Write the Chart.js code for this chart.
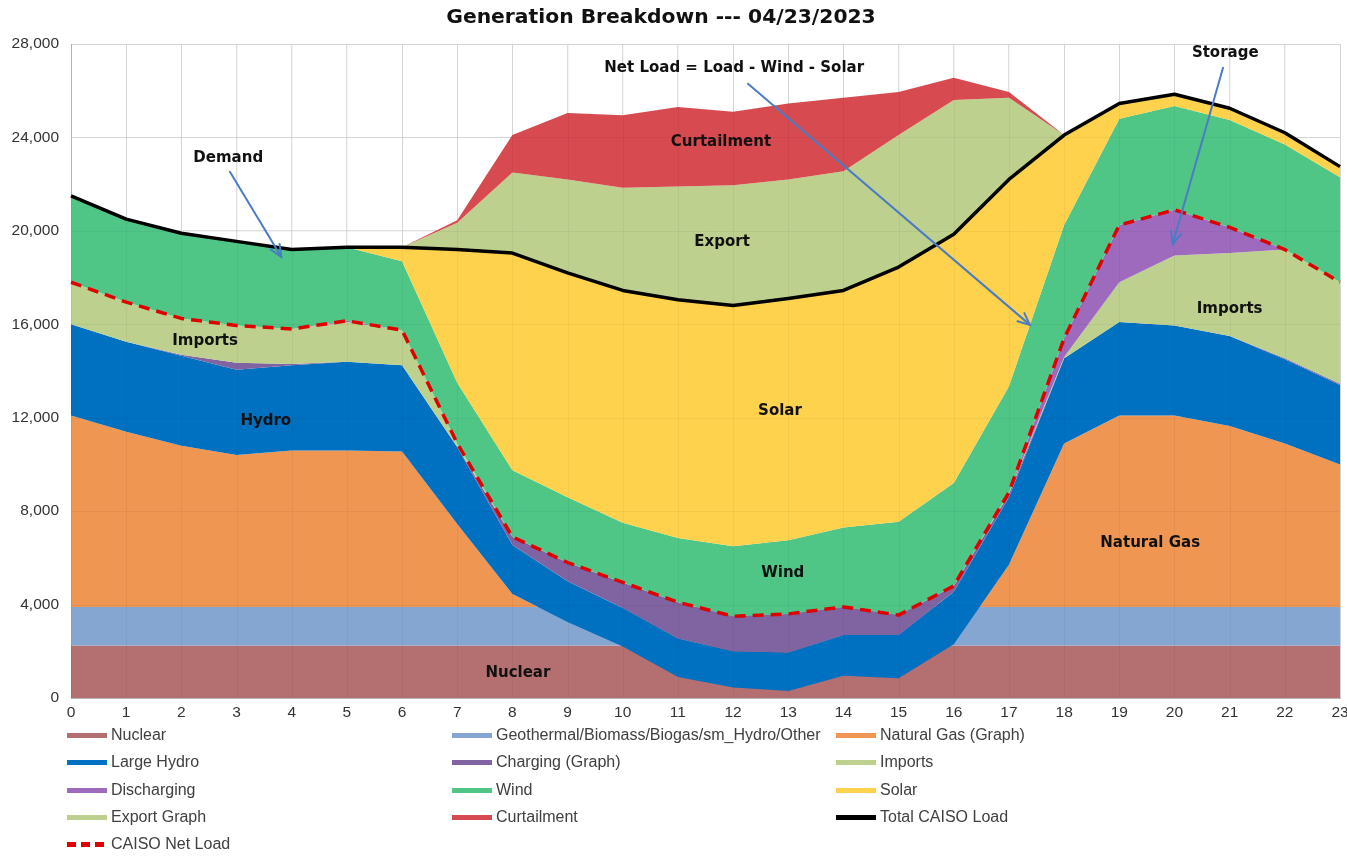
<!DOCTYPE html>
<html><head><meta charset="utf-8">
<script src="https://cdn.jsdelivr.net/npm/chart.js@4.4.0/dist/chart.umd.min.js"></script>
<style>
html,body{margin:0;padding:0;background:#fff;}
#wrap{position:relative;width:1347px;height:858px;overflow:hidden;}
#c{position:absolute;left:0;top:0;}
#title{position:absolute;left:0;width:1322px;top:4px;text-align:center;font:bold 20.3px "DejaVu Sans";color:#111;}
#legend{position:absolute;left:0;top:0;width:1347px;height:858px;pointer-events:none;}
.li{position:absolute;font:16px "Liberation Sans";color:#404040;white-space:nowrap;line-height:18px;}
.sw{position:absolute;}
</style></head><body>
<div id="wrap"><canvas id="c" width="1347" height="858"></canvas>
<div id="title">Generation Breakdown --- 04/23/2023</div>
<div id="legend"></div></div>
<script>
// ---- data (MW), hourly 0..23 ; "Graph" series as plotted in the stacked chart ----
const hours = ['0','1','2','3','4','5','6','7','8','9','10','11','12','13','14','15','16','17','18','19','20','21','22','23'];
const nuclear     = [2250,2250,2250,2250,2250,2250,2250,2250,2250,2250,2250,2250,2250,2250,2250,2250,2250,2250,2250,2250,2250,2250,2250,2250];
const geothermal  = [1650,1650,1650,1650,1650,1650,1650,1650,1650,1650,1650,1650,1650,1650,1650,1650,1650,1650,1650,1650,1650,1650,1650,1650];
const naturalGas  = [8200,7500,6900,6500,6700,6700,6650,3550,550,-650,-1700,-3000,-3450,-3600,-2950,-3050,-1600,1800,7000,8200,8200,7750,7000,6100];
const largeHydro  = [3900,3850,3850,3650,3650,3800,3700,3300,2100,1750,1650,1650,1550,1650,1750,1850,2250,2900,3650,4000,3850,3850,3600,3400];
const charging    = [0,0,50,300,50,0,0,0,350,800,1100,1550,1500,1650,1200,850,250,150,0,0,0,0,50,50];
const imports     = [1800,1700,1550,1600,1500,1700,1500,150,0,0,0,0,0,0,0,0,0,50,50,1700,3000,3550,4650,4350];
const discharging = [0,0,0,0,0,50,0,0,0,0,0,0,0,0,0,0,0,0,800,2450,1950,1100,0,0];
const wind        = [3700,3550,3650,3600,3400,3150,2950,2600,2850,2800,2550,2750,3000,3150,3400,4000,4400,4550,4850,4550,4450,4600,4500,4500];
const solar       = [0,0,0,0,0,0,600,5700,9300,9600,9950,10200,10300,10350,10150,10900,10650,8850,3850,650,500,500,500,450];
const exportGraph = [0,0,0,0,0,0,0,1150,3450,4000,4400,4850,5150,5100,5100,5650,5750,3500,0,0,0,0,0,0];
const curtailment = [0,0,0,0,0,0,0,100,1600,2850,3100,3400,3150,3250,3150,1850,950,250,0,0,0,0,0,0];
const totalLoad   = [21500,20500,19900,19550,19200,19300,19300,19200,19050,18200,17450,17050,16800,17100,17450,18450,19850,22200,24100,25450,25850,25250,24200,22750];
const netLoad     = [17800,16950,16250,15950,15800,16150,15750,10900,6900,5800,4950,4100,3500,3600,3900,3550,4800,8800,15400,20250,20900,20150,19200,17800];
const yTicks      = [0,4000,8000,12000,16000,20000,24000,28000];

const areaSeries = [
  {label:'Nuclear', data:nuclear, color:'#B47070'},
  {label:'Geothermal/Biomass/Biogas/sm_Hydro/Other', data:geothermal, color:'#86A6D2'},
  {label:'Natural Gas (Graph)', data:naturalGas, color:'#EF9653'},
  {label:'Large Hydro', data:largeHydro, color:'#0070C0'},
  {label:'Charging (Graph)', data:charging, color:'#8064A2'},
  {label:'Imports', data:imports, color:'#BED08E'},
  {label:'Discharging', data:discharging, color:'#9D6ABE'},
  {label:'Wind', data:wind, color:'#50C686'},
  {label:'Solar', data:solar, color:'#FFD24D'},
  {label:'Export Graph', data:exportGraph, color:'#BED08E'},
  {label:'Curtailment', data:curtailment, color:'#D64A50'}
];
const lineSeries = [
  {label:'Total CAISO Load', data:totalLoad, color:'#000000', dash:[]},
  {label:'CAISO Net Load', data:netLoad, color:'#E00000', dash:[11,7]}
];

// annotation labels & arrows (positions in data units: hour, MW)
const labels = [
  {t:'Demand', h:2.85, v:23130},
  {t:'Net Load = Load - Wind - Solar', h:12.02, v:26980},
  {t:'Storage', h:20.92, v:27625},
  {t:'Curtailment', h:11.78, v:23815},
  {t:'Export', h:11.8, v:19530},
  {t:'Solar', h:12.85, v:12290},
  {t:'Wind', h:12.9, v:5350},
  {t:'Imports', h:2.43, v:15290},
  {t:'Hydro', h:3.53, v:11865},
  {t:'Nuclear', h:8.1, v:1070},
  {t:'Natural Gas', h:19.56, v:6640},
  {t:'Imports', h:21.0, v:16660}
];
const arrows = [
  {h1:2.88, v1:22530, h2:3.81, v2:18890},
  {h1:12.27, v1:26300, h2:17.38, v2:15975},
  {h1:20.88, v1:26980, h2:19.97, v2:19445}
];

// Excel-style stacking: running sum of the series (gas may go negative), each band
// filled against the previous cumulative line, later bands painted on top.
const cumulative = [];
areaSeries.forEach((s, i) => {
  cumulative.push(s.data.map((v, k) => v + (i ? cumulative[i - 1][k] : 0)));
});
const baseTop = nuclear.map((v, k) => v + geothermal[k]);

const datasets = areaSeries.map((s, i) => {
  let fill = '-1';
  if (i === 0) fill = 'origin';
  if (i === 2) fill = {target:{value: baseTop[0]}, above:s.color, below:'rgba(0,0,0,0)'};
  return {
    type:'line', label:s.label, data:cumulative[i], backgroundColor:s.color, borderColor:s.color,
    borderWidth:0, pointRadius:0, fill, tension:0, order:100 - i
  };
}).concat(lineSeries.map(s => ({
  type:'line', label:s.label, data:s.data, borderColor:s.color, borderDash:s.dash,
  borderWidth:3.5, pointRadius:0, fill:false, tension:0, order:0,
  borderCapStyle:'butt', borderJoinStyle:'round'
})));

let gridOverlayDone = false;
const annotationPlugin = {
  id:'annot',
  beforeDraw(){ gridOverlayDone = false; },
  beforeDatasetDraw(chart, args){
    // faint gridlines showing through the filled areas (drawn before the two lines)
    if (gridOverlayDone || args.index < areaSeries.length) return;
    gridOverlayDone = true;
    const {ctx, chartArea:a, scales:{x, y}} = chart;
    ctx.save();
    ctx.strokeStyle = 'rgba(0,0,0,0.045)'; ctx.lineWidth = 1;
    hours.forEach((h, k) => {
      const px = Math.round(x.getPixelForValue(k)) + 0.5;
      ctx.beginPath(); ctx.moveTo(px, a.top); ctx.lineTo(px, a.bottom); ctx.stroke();
    });
    yTicks.forEach(v => {
      const py = Math.round(y.getPixelForValue(v)) + 0.5;
      ctx.beginPath(); ctx.moveTo(a.left, py); ctx.lineTo(a.right, py); ctx.stroke();
    });
    ctx.restore();
  },
  afterDatasetsDraw(chart){
    const {ctx, scales:{x, y}} = chart;
    ctx.save();
    ctx.strokeStyle = '#4A7CC6'; ctx.lineWidth = 2; ctx.lineCap = 'round';
    arrows.forEach(a => {
      const x1 = x.getPixelForValue(a.h1), y1 = y.getPixelForValue(a.v1);
      const x2 = x.getPixelForValue(a.h2), y2 = y.getPixelForValue(a.v2);
      ctx.beginPath(); ctx.moveTo(x1,y1); ctx.lineTo(x2,y2); ctx.stroke();
      const ang = Math.atan2(y2-y1, x2-x1), L = 13, w = 0.42;
      ctx.beginPath();
      ctx.moveTo(x2 - L*Math.cos(ang-w), y2 - L*Math.sin(ang-w));
      ctx.lineTo(x2, y2);
      ctx.lineTo(x2 - L*Math.cos(ang+w), y2 - L*Math.sin(ang+w));
      ctx.stroke();
    });
    ctx.fillStyle = '#111';
    ctx.font = 'bold 15px "DejaVu Sans"';
    ctx.textAlign = 'center'; ctx.textBaseline = 'middle';
    labels.forEach(l => ctx.fillText(l.t, x.getPixelForValue(l.h), y.getPixelForValue(l.v)));
    ctx.restore();
  }
};

const tickFont = {family:'Liberation Sans', size:15.5};
new Chart(document.getElementById('c'), {
  data:{labels:hours, datasets},
  options:{
    responsive:false, animation:false, events:[],
    layout:{padding:{left:0, right:7, top:44, bottom:130}},
    plugins:{legend:{display:false}, tooltip:{enabled:false}, title:{display:false}},
    scales:{
      x:{type:'category', offset:false,
         grid:{color:'#dedede', drawTicks:false, lineWidth:1},
         border:{color:'#bdbdbd'},
         ticks:{color:'#333', font:tickFont, padding:5, maxRotation:0, autoSkip:false},
         afterFit(s){ s.height = 30; s.paddingLeft = 0; s.paddingRight = 0; }},
      y:{min:0, max:28000,
         afterBuildTicks(s){ s.ticks = yTicks.map(v => ({value:v})); },
         grid:{color:'#dedede', drawTicks:false},
         border:{color:'#bdbdbd'},
         ticks:{color:'#333', font:tickFont, padding:12, callback:v => v.toLocaleString('en-US')},
         afterFit(s){ s.width = 71; s.paddingTop = 0; s.paddingBottom = 0; }}
    }
  },
  plugins:[annotationPlugin]
});

// legend (3 columns, row-major)
const legendItems = areaSeries.map(s => ({label:s.label, color:s.color, dash:null}))
  .concat(lineSeries.map(s => ({label:s.label, color:s.color, dash:s.dash.length ? s.dash : null})));
const colX = [67, 452, 836], rowY = [735, 762, 790, 817, 844];
const leg = document.getElementById('legend');
legendItems.forEach((it, i) => {
  const cx = colX[i % 3], cy = rowY[Math.floor(i / 3)];
  const sw = document.createElement('div');
  sw.className = 'sw';
  sw.style.left = cx + 'px'; sw.style.top = (cy - 2.5) + 'px';
  sw.style.width = '40px'; sw.style.height = '5px';
  if (it.dash) {
    sw.style.background = 'repeating-linear-gradient(90deg,' + it.color + ' 0 9px, transparent 9px 14px)';
  } else {
    sw.style.background = it.color;
  }
  leg.appendChild(sw);
  const tx = document.createElement('div');
  tx.className = 'li';
  tx.style.left = (cx + 44) + 'px'; tx.style.top = (cy - 9) + 'px';
  tx.textContent = it.label;
  leg.appendChild(tx);
});
</script>
</body></html>
